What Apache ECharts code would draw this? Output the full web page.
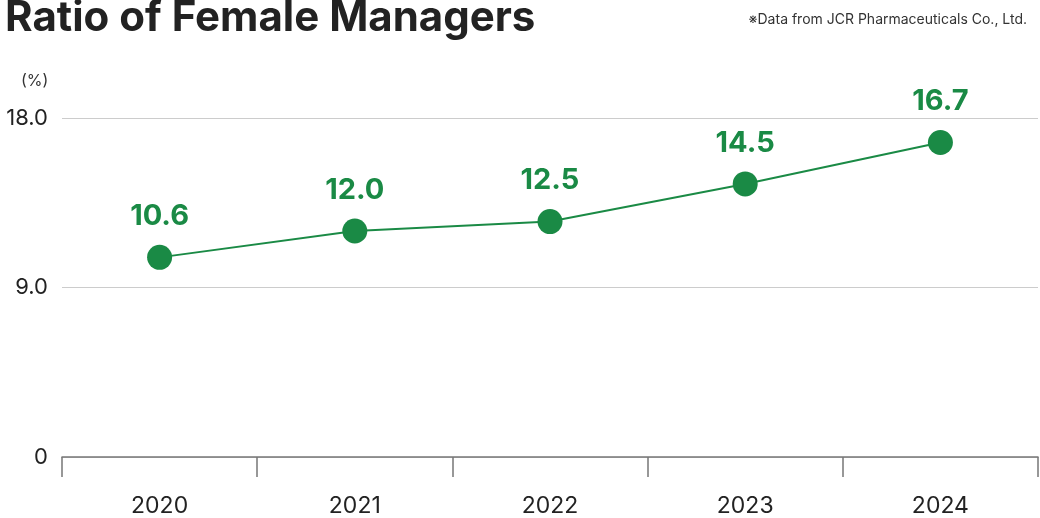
<!DOCTYPE html><html><head><meta charset="utf-8"><script src="https://cdn.jsdelivr.net/npm/echarts@6/dist/echarts.min.js"></script>
<style>html,body{margin:0;background:#fff}#c{width:1040px;height:518px}</style></head><body><div id="c"></div><script>
const categories=['2020','2021','2022','2023','2024'];
const values=[10.6,12.0,12.5,14.5,16.7];
const yTicks=[0,9,18];
const chart=echarts.init(document.getElementById('c'));
chart.setOption({
animation:false,
title:[{text:'Ratio of Female Managers',left:0,top:-8,textStyle:{fontFamily:'Inter',fontSize:42,fontWeight:'bold',color:'#222'}},
{text:'※Data from JCR Pharmaceuticals Co., Ltd.',right:8,top:8,textStyle:{fontFamily:'Inter',fontSize:14,fontWeight:'normal',color:'#333'}},
{text:'(%)',left:16,top:68,textStyle:{fontFamily:'Inter',fontSize:16,fontWeight:'normal',color:'#333'}}],
grid:{left:62,right:2,top:118,bottom:60},
xAxis:{type:'category',data:categories,boundaryGap:true,
axisLine:{show:true,lineStyle:{color:'#777',width:1.5}},axisTick:{show:true,interval:0,length:20,lineStyle:{color:'#777',width:1.5}},
axisLabel:{margin:38,fontFamily:'Inter',fontSize:23,color:'#222'}},
yAxis:{type:'value',min:0,max:18,interval:9,
axisLabel:{fontFamily:'Inter',fontSize:22,color:'#222',margin:14,formatter:v=>v===0?'0':v.toFixed(1)},
splitLine:{lineStyle:{color:'#ccc'}},axisLine:{show:false},axisTick:{show:false}},
series:[{type:'line',data:values,symbol:'circle',symbolSize:25,
lineStyle:{color:'#1a8a45',width:2},itemStyle:{color:'#1a8a45'},
label:{show:true,position:'top',distance:14,formatter:p=>p.value.toFixed(1),fontFamily:'Inter',fontSize:29,fontWeight:'bold',color:'#1a8a45'}}]
});
</script></body></html>
